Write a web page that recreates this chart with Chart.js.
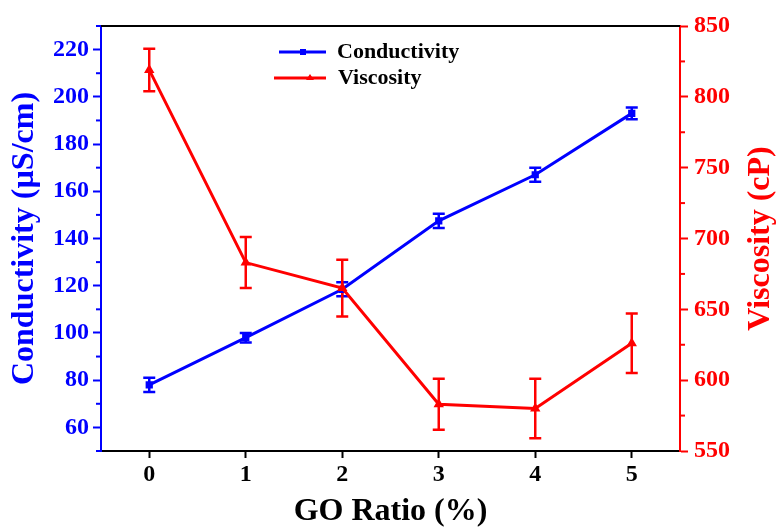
<!DOCTYPE html>
<html>
<head>
<meta charset="utf-8">
<script src="https://cdn.jsdelivr.net/npm/chart.js@4/dist/chart.umd.min.js"></script>
<style>
html, body { margin: 0; padding: 0; background: #fff; }
#wrap { width: 776px; height: 527px; position: relative; }
</style>
</head>
<body>
<div id="wrap"><canvas id="chart"></canvas></div>
<script>
// Data
const goRatio = [0, 1, 2, 3, 4, 5];
const conductivity = [78, 98, 118.5, 147.5, 167, 193];
const conductivityErr = [3, 2, 3, 3, 3, 2.5];
const viscosity = [819, 683, 665, 583, 580, 626];
const viscosityErr = [15, 18, 20, 18, 21, 21];

// Tick labels
const xTicks = [0, 1, 2, 3, 4, 5];
const condMajor = [60, 80, 100, 120, 140, 160, 180, 200, 220];
const condMinor = [50, 70, 90, 110, 130, 150, 170, 190, 210, 230];
const viscMajor = [550, 600, 650, 700, 750, 800, 850];
const viscMinor = [575, 625, 675, 725, 775, 825];

const BLUE = '#0000ff';
const RED = '#ff0000';
const FONT = "'Liberation Serif', 'Times New Roman', serif";

function drawErrorBars(ctx, xScale, yScale, values, errs, color) {
    ctx.save();
    ctx.strokeStyle = color;
    ctx.lineWidth = 2.5;
    values.forEach((v, i) => {
        const px = xScale.getPixelForValue(goRatio[i]);
        const top = yScale.getPixelForValue(v + errs[i]);
        const bot = yScale.getPixelForValue(v - errs[i]);
        ctx.beginPath();
        ctx.moveTo(px, top); ctx.lineTo(px, bot);
        ctx.moveTo(px - 6, top); ctx.lineTo(px + 6, top);
        ctx.moveTo(px - 6, bot); ctx.lineTo(px + 6, bot);
        ctx.stroke();
    });
    ctx.restore();
}

const overlay = {
    id: 'overlay',
    beforeDatasetsDraw(chart) {
        const { ctx, scales } = chart;
        drawErrorBars(ctx, scales.x, scales.yC, conductivity, conductivityErr, BLUE);
        drawErrorBars(ctx, scales.x, scales.yV, viscosity, viscosityErr, RED);
    },
    afterDraw(chart) {
        const { ctx, chartArea: a, scales } = chart;
        ctx.save();
        // top frame
        ctx.strokeStyle = '#000';
        ctx.lineWidth = 2;
        ctx.beginPath();
        ctx.moveTo(a.left, a.top); ctx.lineTo(a.right, a.top);
        ctx.stroke();

        // minor ticks
        ctx.lineWidth = 2;
        ctx.strokeStyle = BLUE;
        condMinor.forEach(v => {
            const y = scales.yC.getPixelForValue(v);
            ctx.beginPath(); ctx.moveTo(a.left - 5, y); ctx.lineTo(a.left, y); ctx.stroke();
        });
        ctx.strokeStyle = RED;
        viscMinor.forEach(v => {
            const y = scales.yV.getPixelForValue(v);
            ctx.beginPath(); ctx.moveTo(a.right, y); ctx.lineTo(a.right + 5, y); ctx.stroke();
        });

        // right axis title (reads bottom to top)
        ctx.fillStyle = RED;
        ctx.font = 'bold 32px ' + FONT;
        ctx.textAlign = 'center';
        ctx.textBaseline = 'middle';
        ctx.translate(761, (a.top + a.bottom) / 2);
        ctx.rotate(-Math.PI / 2);
        ctx.fillText('Viscosity (cP)', 0, 0);
        ctx.restore();

        // legend
        ctx.save();
        ctx.lineWidth = 3;
        ctx.font = 'bold 22px ' + FONT;
        ctx.textAlign = 'left';
        ctx.textBaseline = 'middle';
        ctx.strokeStyle = BLUE;
        ctx.beginPath(); ctx.moveTo(279, 52); ctx.lineTo(326, 52); ctx.stroke();
        ctx.fillStyle = BLUE;
        ctx.fillRect(300, 49, 6, 6);
        ctx.fillStyle = '#000';
        ctx.fillText('Conductivity', 337, 52);
        ctx.strokeStyle = RED;
        ctx.beginPath(); ctx.moveTo(274, 78); ctx.lineTo(326, 78); ctx.stroke();
        ctx.fillStyle = RED;
        ctx.beginPath(); ctx.moveTo(310, 74); ctx.lineTo(314, 80); ctx.lineTo(306, 80); ctx.closePath(); ctx.fill();
        ctx.fillStyle = '#000';
        ctx.fillText('Viscosity', 338, 78);
        ctx.restore();
    }
};

const tickFont = { family: FONT, size: 24, weight: 'bold' };
const titleFont = { family: FONT, size: 32, weight: 'bold' };

new Chart(document.getElementById('chart'), {
    type: 'line',
    data: {
        datasets: [{
            label: 'Conductivity',
            data: goRatio.map((x, i) => ({ x: x, y: conductivity[i] })),
            yAxisID: 'yC',
            borderColor: BLUE,
            backgroundColor: BLUE,
            borderWidth: 3,
            pointStyle: 'rect',
            pointRadius: 3,
            order: 1
        }, {
            label: 'Viscosity',
            data: goRatio.map((x, i) => ({ x: x, y: viscosity[i] })),
            yAxisID: 'yV',
            borderColor: RED,
            backgroundColor: RED,
            borderWidth: 3,
            pointStyle: 'triangle',
            pointRadius: 3,
            order: 0
        }]
    },
    options: {
        responsive: true,
        maintainAspectRatio: false,
        animation: false,
        layout: { padding: { top: 26, left: 0, right: 0, bottom: 0 } },
        plugins: {
            legend: { display: false },
            tooltip: { enabled: false }
        },
        scales: {
            x: {
                type: 'linear',
                min: -0.5,
                max: 5.5,
                afterBuildTicks: axis => { axis.ticks = xTicks.map(v => ({ value: v })); },
                afterFit: s => { s.height = 76; },
                grid: { drawOnChartArea: false, tickLength: 7, tickColor: '#000', tickWidth: 2 },
                border: { color: '#000', width: 2 },
                ticks: { color: '#000', font: tickFont, padding: 2, maxRotation: 0 },
                title: {
                    display: true,
                    text: 'GO Ratio (%)',
                    color: '#000',
                    font: titleFont,
                    padding: { top: 0, bottom: -4 }
                }
            },
            yC: {
                type: 'linear',
                position: 'left',
                min: 50,
                max: 230,
                afterBuildTicks: axis => { axis.ticks = condMajor.map(v => ({ value: v })); },
                afterFit: s => { s.width = 101; },
                grid: { drawOnChartArea: false, tickLength: 8, tickColor: BLUE, tickWidth: 2 },
                border: { color: BLUE, width: 2 },
                ticks: { color: BLUE, font: tickFont, padding: 4 },
                title: {
                    display: true,
                    text: 'Conductivity (µS/cm)',
                    color: BLUE,
                    font: titleFont,
                    padding: { top: 6, bottom: 0 }
                }
            },
            yV: {
                type: 'linear',
                position: 'right',
                min: 550,
                max: 850,
                afterBuildTicks: axis => { axis.ticks = viscMajor.map(v => ({ value: v })); },
                afterFit: s => { s.width = 96; },
                grid: { drawOnChartArea: false, tickLength: 8, tickColor: RED, tickWidth: 2 },
                border: { color: RED, width: 2 },
                ticks: { color: RED, font: tickFont, padding: 6 }
            }
        }
    },
    plugins: [overlay]
});
</script>
</body>
</html>
